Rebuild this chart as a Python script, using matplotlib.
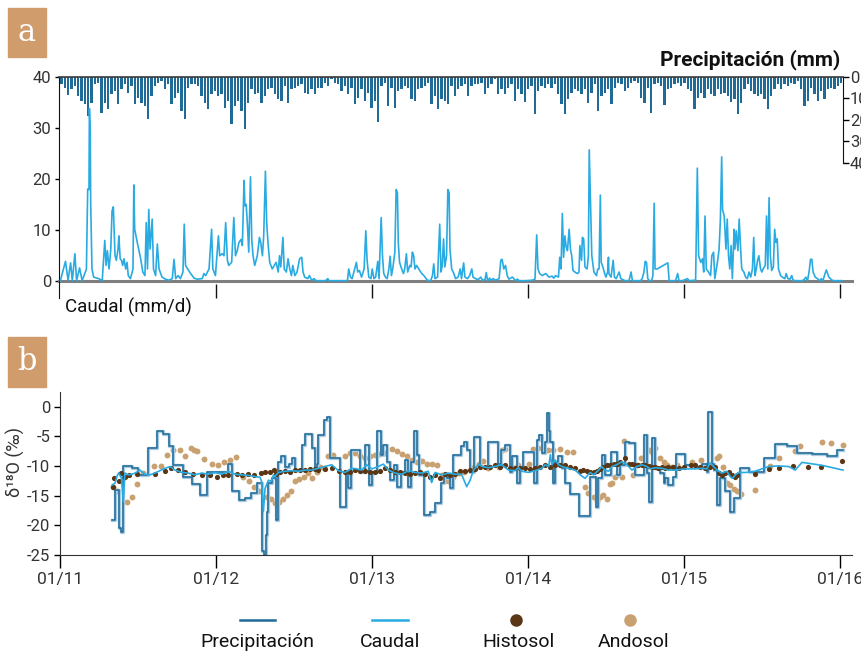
import numpy as np
import matplotlib
matplotlib.use("Agg")
import matplotlib.pyplot as plt
from matplotlib.lines import Line2D
from matplotlib.patches import Rectangle
import matplotlib.patheffects as pe

plt.rcParams['font.family'] = ['Roboto', 'DejaVu Sans']
TICK_FONT = ['Roboto', 'DejaVu Sans']

# colours
C_PRECIP = '#1f6a97'
C_CAUDAL = '#29abe2'
C_HISTO = '#5a3614'
C_ANDO = '#c9a06f'
C_BOX = '#d09c6b'
C_TXT = '#333333'

# x axis: days since 01/01/2011
YEAR_TICKS = [0, 365.25, 730.5, 1095.75, 1461, 1826.25]
YEAR_LABELS = ['01/11', '01/12', '01/13', '01/14', '01/15', '01/16']

# ---- panel a: precipitation (mm), one bar every PRECIP_STEP days ----
PRECIP_START = 2
PRECIP_STEP = 7.8
precip_mm = [
    3.4, 5.0, 8.5, 5.7, 4.2, 8.8, 11.2, 12.7, 18.1, 11.9, 3.4, 2.6, 16.6, 11.9, 15.0, 8.1,
    6.5, 12.7, 5.7, 3.4, 7.3, 4.2, 12.7, 9.6, 11.9, 13.5, 19.4, 8.8, 4.2, 2.6, 1.9, 5.7,
    3.4, 12.7, 9.6, 7.3, 15.8, 19.4, 5.0, 3.4, 3.4, 4.2, 8.8, 11.9, 15.0, 8.1, 6.5, 8.8,
    8.1, 14.3, 11.2, 22.0, 13.5, 11.2, 15.8, 24.0, 11.9, 5.7, 8.1, 7.3, 11.9, 8.8, 5.7, 5.0,
    8.1, 10.4, 11.2, 4.2, 11.9, 5.7, 5.0, 4.2, 3.4, 7.3, 8.1, 5.7, 8.1, 5.0,
    5.0, 2.6, 4.2, 1.1, 2.6, 3.4, 6.5, 4.2, 8.1, 5.0, 12.7, 9.6, 5.7, 11.2, 7.3, 14.3,
    11.2, 20.9, 4.2, 2.6, 13.5, 5.0, 14.3, 6.5, 5.7, 4.2, 5.0, 10.4, 11.2, 5.7, 5.0, 4.2,
    2.6, 12.7, 8.8, 15.0, 10.4, 11.2, 12.7, 4.2, 8.8, 5.7, 4.2, 3.4, 8.8, 4.2, 3.4, 3.4,
    2.6, 8.1, 5.0, 3.4, 1.1, 8.1, 5.7, 8.1, 5.0, 3.4, 11.2, 5.7, 8.1, 11.6, 5.7, 4.2,
    17.4, 6.5, 4.2, 5.0, 3.4, 5.0, 3.4, 8.1, 12.7, 17.4, 10.4, 7.3, 5.7, 6.5,
    8.1, 5.7, 11.9, 7.3, 3.4, 15.8, 8.8, 7.3, 5.7, 12.7, 5.0, 2.6, 3.4, 6.5, 5.0, 2.6,
    1.9, 2.6, 9.6, 11.9, 5.0, 16.6, 3.4, 2.6, 4.2, 13.2, 5.7, 5.0, 3.4, 2.6, 4.2, 2.6,
    5.7, 6.5, 15.0, 9.6, 7.3, 9.6, 5.7, 8.1, 8.8, 5.7, 8.1, 7.3, 8.8, 11.6, 10.4, 17.4,
    11.9, 5.7, 3.4, 6.5, 8.1, 8.8, 8.1, 10.4, 14.7, 8.8, 5.7, 3.4, 5.7, 3.4, 4.2, 2.6,
    3.4, 1.9, 5.7, 13.5, 11.2, 5.0, 8.1, 11.2, 6.5, 10.4, 5.7, 5.0, 5.7, 4.2, 2.6,
]

# ---- panel a: discharge (mm/d) as (day, value) ----
caudal_q = [
    (2, 0), (14, 3.8), (20, 0.1), (26, 3.5), (30, 0), (36, 5.3), (40, 0), (47, 2.5), (53, 0),
    (59, 1.4), (63, 2.3), (66, 18.0), (69, 17.9), (70, 33.8), (72, 29.3), (73, 15.3), (76, 2.3),
    (80, 0.7), (92, 0.4), (100, 0), (106, 7.9), (109, 3.0), (112, 5.9), (116, 2.3), (120, 6.2),
    (123, 13.7), (126, 14.5), (130, 4.9), (133, 4.0), (137, 6.2), (139, 8.8), (142, 4.3),
    (145, 4.0), (148, 3.0), (151, 4.3), (155, 2.3), (158, 3.6), (161, 1.0), (166, 0.4),
    (172, 2.3), (174, 18.8), (176, 10.1), (182, 7.5), (190, 4.3), (195, 1.7), (200, 1.0),
    (203, 11.4), (206, 2.3), (209, 14.0), (212, 6.2), (217, 12.1), (220, 2.3), (225, 1.0),
    (229, 7.2), (233, 2.3), (240, 0.7), (248, 0.3), (256, 0.1), (264, 0.4), (268, 4.2),
    (272, 0.4), (278, 1.0), (283, 0.4), (289, 1.7), (292, 11.1), (295, 3.0), (300, 2.3),
    (307, 1.4), (315, 0.5), (322, 0.3), (334, 0.4), (338, 1.4), (342, 1.0), (350, 2.3),
    (356, 10.1), (359, 2.3), (365, 1.0), (372, 8.8), (375, 4.9), (381, 5.3), (385, 4.9),
    (389, 11.4), (393, 4.0), (396, 3.0), (403, 3.6), (408, 12.4), (412, 4.9), (416, 5.9),
    (420, 7.5), (425, 8.1), (428, 6.9), (432, 19.7), (434, 14.7), (437, 15.0), (440, 10.8),
    (443, 5.6), (447, 20.4), (450, 8.2), (453, 4.9), (457, 3.0), (463, 4.9), (468, 8.5),
    (471, 7.5), (475, 4.9), (478, 8.8), (482, 21.5), (485, 11.4), (488, 7.5), (492, 3.6),
    (498, 2.3), (503, 3.0), (507, 3.6), (512, 1.7), (515, 4.9), (518, 2.7), (523, 8.5),
    (526, 2.3), (531, 1.7), (535, 4.3), (539, 2.3), (543, 1.0), (546, 3.0), (551, 1.0),
    (556, 1.7), (562, 4.3), (567, 4.6), (570, 1.7), (574, 0.7), (581, 0.4), (585, 1.0),
    (590, 0.1), (596, 0.4), (601, 0), (611, 0), (623, 0), (628, 0.4), (631, 0), (646, 0),
    (674, 0), (677, 2.3), (681, 0.7), (685, 0.4), (695, 3.6), (698, 1.7), (702, 2.0),
    (707, 0.7), (713, 2.3), (717, 9.8), (720, 4.0), (724, 0.7), (729, 0.4), (732, 2.3),
    (736, 0.4), (740, 0.7), (745, 3.8), (748, 0.4), (753, 12.4), (756, 4.9), (759, 1.4),
    (763, 0.7), (767, 0.4), (771, 2.3), (774, 4.8), (777, 1.0), (780, 2.3), (785, 5.6),
    (788, 17.9), (791, 17.3), (793, 7.5), (796, 3.6), (801, 2.3), (805, 1.4), (808, 2.3),
    (812, 5.3), (815, 1.7), (820, 3.0), (823, 2.7), (826, 5.6), (829, 4.9), (832, 2.3),
    (836, 3.0), (841, 2.3), (848, 1.4), (853, 1.0), (861, 0.1), (869, 0), (873, 1.0),
    (876, 3.3), (879, 0.4), (885, 0.7), (890, 11.1), (893, 1.7), (896, 3.0), (899, 8.2),
    (902, 2.7), (906, 4.9), (909, 17.9), (912, 17.3), (914, 6.2), (918, 2.3), (923, 1.4),
    (927, 0.4), (933, 0.7), (938, 2.3), (941, 0.4), (946, 3.5), (949, 0.7), (955, 0.4),
    (960, 1.0), (965, 2.3), (968, 0.7), (974, 0.4), (980, 0.2), (986, 0.7), (990, 0.1),
    (996, 0.2), (999, 1.6), (1002, 0), (1007, 0.5), (1010, 0.1), (1015, 0.4), (1021, 0.1),
    (1029, 0.4), (1033, 4.0), (1036, 4.2), (1040, 2.3), (1044, 3.0), (1048, 1.0), (1052, 0.3),
    (1060, 0.7), (1068, 0), (1072, 0.3), (1076, 0), (1091, 0), (1107, 0.1), (1113, 0.3),
    (1117, 9.0), (1120, 2.3), (1124, 1.4), (1130, 1.0), (1138, 1.4), (1146, 0.7), (1153, 0.9),
    (1157, 0.5), (1161, 1.0), (1168, 0.7), (1171, 4.6), (1174, 2.3), (1177, 13.2), (1180, 4.6),
    (1183, 8.8), (1186, 6.6), (1189, 5.9), (1193, 10.1), (1196, 6.2), (1199, 4.9), (1202, 2.0),
    (1208, 1.6), (1213, 1.4), (1216, 1.7), (1218, 6.9), (1222, 4.0), (1224, 8.5), (1227, 8.2),
    (1230, 2.7), (1235, 2.3), (1238, 4.9), (1240, 25.7), (1243, 15.3), (1246, 4.9), (1251, 1.7),
    (1257, 1.0), (1260, 2.3), (1263, 2.3), (1266, 16.8), (1268, 3.6), (1272, 2.7), (1275, 1.7),
    (1279, 0.7), (1283, 1.7), (1285, 4.6), (1286, 1.4), (1291, 0.7), (1296, 4.0), (1299, 0.7),
    (1303, 0.4), (1310, 1.7), (1314, 0.4), (1321, 0.1), (1325, 0), (1333, 0), (1338, 1.7),
    (1341, 0), (1360, 0), (1364, 0.4), (1368, 1.7), (1371, 3.8), (1374, 3.6), (1377, 0.4),
    (1381, 0), (1386, 0), (1389, 1.0), (1392, 15.2), (1394, 2.3), (1399, 2.3), (1424, 3.5),
    (1427, 0), (1442, 0), (1447, 1.4), (1450, 0), (1458, 0), (1470, 0.4), (1474, 0), (1489, 0.1),
    (1493, 22.1), (1496, 4.9), (1501, 3.6), (1505, 4.3), (1508, 1.7), (1511, 12.7), (1514, 2.3),
    (1519, 1.7), (1524, 1.0), (1527, 4.9), (1531, 5.6), (1534, 0.4), (1540, 3.6), (1544, 6.2),
    (1547, 12.1), (1550, 24.3), (1552, 14.0), (1556, 12.7), (1560, 6.2), (1563, 12.1),
    (1566, 4.9), (1569, 2.3), (1572, 6.9), (1575, 0.4), (1579, 10.1), (1581, 6.2), (1584, 9.8),
    (1588, 5.9), (1591, 12.1), (1594, 6.9), (1597, 2.3), (1602, 1.7), (1606, 0.7), (1610, 0.4),
    (1614, 1.7), (1618, 0.7), (1622, 2.3), (1625, 8.5), (1628, 1.0), (1631, 2.3), (1634, 4.0),
    (1637, 4.9), (1641, 2.3), (1644, 1.7), (1647, 2.3), (1652, 3.0), (1655, 12.7), (1658, 2.3),
    (1661, 16.3), (1664, 4.9), (1667, 2.0), (1671, 2.7), (1674, 10.1), (1677, 7.5), (1680, 8.2),
    (1683, 2.3), (1688, 1.0), (1692, 0.7), (1698, 0.4), (1701, 1.4), (1705, 0.4), (1710, 0.3),
    (1714, 1.0), (1717, 0.1), (1723, 0), (1739, 0), (1744, 0.3), (1747, 0.7), (1751, 0),
    (1755, 2.0), (1758, 4.2), (1761, 4.2), (1764, 1.7), (1769, 0.7), (1774, 0.4), (1780, 0),
    (1783, 0.4), (1787, 0), (1792, 1.4), (1795, 2.1), (1798, 1.4), (1801, 0.7), (1808, 0.1),
    (1813, 0), (1833, 0),
]

# ---- panel b: d18O (permil) ----
# precipitation samples, each value holds until the next sample
precip_d18o = [
    (122, -19.1), (129, -14.0), (137, -20.5), (142, -21.1), (148, -10.0), (169, -10.4),
    (182, -11.5), (205, -6.9), (226, -4.2), (240, -4.7), (254, -6.6), (265, -9.8), (289, -11.8),
    (308, -13.1), (328, -14.9), (343, -11.0), (393, -9.6), (402, -14.3), (418, -15.7),
    (433, -15.4), (447, -14.6), (460, -12.9), (472, -24.4), (477, -25.0), (482, -21.6),
    (485, -17.7), (488, -12.9), (496, -12.1), (505, -19.1), (510, -9.3), (518, -8.4),
    (527, -10.1), (535, -9.6), (544, -8.7), (549, -10.7), (567, -6.5), (574, -4.7), (589, -7.0),
    (596, -10.7), (601, -9.6), (605, -4.8), (617, -2.2), (624, -1.7), (632, -8.7), (656, -17.0),
    (669, -11.2), (675, -13.8), (682, -7.3), (703, -11.0), (714, -6.5), (724, -13.2),
    (731, -11.0), (741, -4.2), (751, -8.1), (757, -6.5), (765, -9.3), (773, -12.4), (781, -9.8),
    (788, -13.5), (799, -11.0), (808, -9.0), (814, -13.5), (821, -9.3), (829, -4.2), (835, -8.1),
    (841, -11.5), (851, -18.3), (866, -17.7), (878, -16.3), (892, -12.9), (898, -11.5),
    (905, -12.1), (913, -13.8), (921, -8.1), (938, -6.7), (945, -5.9), (952, -7.3), (960, -11.0),
    (970, -5.1), (984, -10.1), (1003, -5.9), (1025, -9.6), (1033, -7.3), (1042, -6.5),
    (1054, -11.0), (1058, -8.4), (1069, -12.9), (1077, -10.1), (1085, -7.6), (1109, -12.9),
    (1116, -5.6), (1122, -4.8), (1128, -7.9), (1136, -5.9), (1141, -1.1), (1144, -4.2),
    (1147, -5.9), (1155, -12.9), (1159, -9.3), (1165, -8.4), (1175, -10.4), (1182, -12.9),
    (1194, -14.7), (1214, -18.5), (1241, -11.8), (1254, -16.9), (1260, -12.1), (1268, -8.1),
    (1275, -11.5), (1290, -7.6), (1303, -11.5), (1311, -9.8), (1323, -5.9), (1331, -6.2),
    (1346, -11.5), (1366, -4.8), (1374, -11.2), (1379, -16.0), (1385, -5.3), (1393, -10.4),
    (1405, -11.2), (1413, -12.9), (1417, -12.1), (1424, -13.2), (1434, -11.8), (1442, -8.0),
    (1463, -9.8), (1487, -10.1), (1502, -9.6), (1514, -11.0), (1517, -1.0), (1526, -9.6),
    (1530, -10.7), (1538, -16.6), (1545, -12.1), (1557, -14.3), (1569, -17.7), (1577, -15.4),
    (1591, -10.4), (1612, -11.1), (1647, -8.7), (1674, -6.3), (1701, -6.6), (1725, -7.9),
    (1760, -8.0), (1795, -8.4), (1818, -7.3), (1833, -7.3),
]

caudal_d18o = [
    (122, -13.2), (129, -12.9), (133, -11.8), (137, -11.2), (140, -11.5), (144, -12.1),
    (148, -16.0), (152, -11.2), (160, -11.5), (168, -11.4), (176, -11.2), (187, -10.7),
    (199, -11.4), (211, -11.5), (222, -11.2), (234, -10.8), (246, -10.4), (258, -10.1),
    (269, -10.7), (285, -11.1), (300, -11.2), (316, -11.5), (332, -11.2), (347, -11.4),
    (363, -11.1), (378, -11.4), (394, -10.9), (410, -11.4), (425, -11.5), (441, -11.6),
    (457, -11.8), (468, -11.9), (472, -12.6), (476, -17.7), (480, -13.8), (488, -12.4),
    (494, -12.6), (500, -11.5), (503, -11.8), (511, -11.1), (527, -10.9), (542, -10.8),
    (558, -10.9), (574, -10.7), (589, -10.7), (605, -10.4), (621, -10.1), (636, -9.8),
    (652, -10.8), (667, -11.1), (683, -10.4), (695, -10.5), (706, -10.7), (718, -9.8),
    (730, -10.5), (745, -10.1), (757, -9.7), (769, -10.7), (784, -11.2), (800, -11.4),
    (816, -10.8), (831, -11.1), (847, -11.2), (862, -10.9), (870, -12.8), (878, -11.1),
    (894, -11.5), (909, -11.2), (925, -11.4), (940, -11.4), (952, -13.5), (960, -12.4),
    (968, -10.7), (980, -9.7), (988, -10.1), (1003, -10.3), (1018, -10.1), (1034, -9.8),
    (1050, -10.7), (1065, -10.8), (1073, -10.3), (1081, -10.9), (1097, -11.1), (1112, -10.8),
    (1128, -10.4), (1136, -9.8), (1144, -10.1), (1148, -8.1), (1151, -9.7), (1159, -9.0),
    (1167, -9.8), (1175, -10.1), (1190, -10.4), (1206, -10.7), (1218, -11.5), (1229, -12.1),
    (1241, -11.1), (1249, -11.5), (1261, -10.7), (1268, -10.1), (1276, -10.7), (1284, -10.9),
    (1292, -10.1), (1303, -9.8), (1315, -9.3), (1327, -9.8), (1339, -10.7), (1350, -10.1),
    (1362, -9.8), (1374, -10.1), (1382, -10.5), (1393, -10.3), (1409, -10.4), (1424, -10.7),
    (1440, -10.7), (1463, -10.5), (1487, -10.5), (1503, -10.4), (1514, -10.5), (1522, -9.5),
    (1530, -10.1), (1538, -10.7), (1549, -11.2), (1561, -10.9), (1569, -11.8), (1574, -12.1),
    (1581, -11.5), (1588, -11.1), (1604, -11.1), (1627, -10.9), (1659, -10.1), (1682, -10.0),
    (1706, -10.1), (1721, -10.7), (1737, -9.4), (1784, -9.9), (1833, -10.7),
]

histosol_d18o = [
    (123, -13.5), (127, -12.1), (137, -12.6), (143, -11.2), (152, -11.8), (162, -11.6),
    (180, -11.3), (222, -11.4), (246, -10.8), (261, -10.3), (277, -10.7), (293, -11.1),
    (312, -11.4), (332, -11.5), (351, -11.6), (367, -11.8), (382, -11.5), (394, -11.5),
    (414, -11.4), (425, -11.5), (439, -11.3), (453, -11.5), (471, -11.2), (480, -11.1),
    (492, -11.1), (500, -10.7), (505, -11.4), (515, -11.1), (527, -10.8), (539, -11.0),
    (550, -10.7), (562, -10.7), (574, -10.7), (585, -10.5), (597, -10.5), (605, -10.7),
    (621, -10.5), (636, -10.3), (652, -10.8), (667, -11.1), (679, -11.1), (691, -10.7),
    (703, -10.8), (714, -10.8), (726, -11.1), (738, -11.0), (749, -10.8), (761, -10.4),
    (773, -10.7), (784, -11.0), (796, -11.1), (808, -11.2), (820, -11.4), (831, -11.2),
    (843, -11.1), (855, -11.4), (866, -11.8), (878, -11.5), (890, -12.0), (901, -11.4),
    (913, -11.5), (925, -11.4), (937, -10.8), (948, -10.8), (960, -10.7), (972, -10.5),
    (984, -10.1), (995, -10.1), (1007, -10.1), (1019, -9.9), (1030, -10.1), (1042, -9.9),
    (1054, -10.3), (1065, -10.4), (1077, -10.3), (1089, -10.4), (1101, -10.5), (1112, -10.3),
    (1124, -10.1), (1136, -9.9), (1147, -10.1), (1159, -9.9), (1171, -9.8), (1182, -9.9),
    (1194, -10.1), (1206, -10.3), (1218, -10.8), (1225, -10.7), (1233, -10.8), (1241, -11.0),
    (1249, -11.1), (1257, -10.8), (1264, -10.5), (1272, -10.1), (1280, -9.9), (1288, -9.8),
    (1296, -9.6), (1303, -9.6), (1311, -9.4), (1323, -8.6), (1331, -9.6), (1339, -9.7),
    (1346, -9.8), (1354, -9.9), (1362, -9.8), (1370, -9.9), (1378, -10.0), (1385, -10.1),
    (1393, -10.1), (1401, -10.3), (1409, -10.1), (1417, -10.3), (1424, -10.1), (1436, -10.1),
    (1448, -10.3), (1460, -10.1), (1476, -9.8), (1487, -9.9), (1499, -10.1), (1511, -10.3),
    (1522, -10.1), (1534, -10.1), (1542, -11.2), (1549, -11.5), (1557, -11.2), (1565, -11.0),
    (1573, -11.5), (1579, -11.8), (1584, -11.5), (1626, -11.4), (1659, -10.5), (1682, -10.3),
    (1715, -10.0), (1751, -10.1), (1782, -10.1), (1830, -9.2),
]

andosol_d18o = [
    (123, -13.5), (134, -14.3), (158, -16.0), (168, -15.3), (180, -13.1), (194, -11.2),
    (221, -10.0), (236, -10.0), (250, -8.1), (265, -7.4), (281, -7.4), (293, -8.4), (306, -7.0),
    (314, -7.3), (321, -7.5), (337, -8.8), (355, -9.7), (371, -9.8), (384, -9.4), (398, -9.0),
    (412, -8.5), (429, -11.8), (443, -12.6), (454, -13.5), (467, -14.3), (484, -15.2),
    (493, -15.5), (503, -16.2), (513, -16.0), (523, -15.5), (532, -14.9), (540, -14.3),
    (550, -12.5), (560, -12.2), (572, -11.8), (581, -11.2), (589, -12.0), (601, -11.1),
    (609, -10.1), (617, -10.4), (628, -8.4), (640, -8.1), (667, -8.4), (679, -7.9), (691, -7.9),
    (703, -8.4), (714, -8.6), (726, -8.4), (738, -8.1), (749, -8.0), (761, -7.9), (777, -7.1),
    (788, -7.5), (800, -8.0), (812, -8.3), (824, -9.0), (835, -9.3), (847, -9.2), (859, -9.6),
    (870, -9.6), (882, -9.8), (894, -11.5), (902, -12.4), (909, -12.6), (921, -11.8),
    (933, -11.2), (945, -11.0), (968, -10.1), (980, -9.6), (991, -9.2), (1003, -10.3),
    (1027, -10.1), (1034, -7.3), (1042, -7.1), (1058, -10.1), (1073, -9.8), (1097, -9.6),
    (1108, -7.1), (1120, -7.0), (1132, -7.1), (1143, -7.3), (1155, -7.3), (1171, -7.1),
    (1186, -7.6), (1200, -7.6), (1229, -13.5), (1237, -14.6), (1249, -15.2), (1257, -15.9),
    (1264, -15.2), (1272, -14.9), (1280, -15.6), (1288, -13.1), (1293, -12.9), (1300, -11.8),
    (1307, -11.4), (1315, -11.8), (1321, -5.8), (1342, -11.6), (1350, -9.8), (1360, -8.6),
    (1370, -8.4), (1378, -7.3), (1385, -7.7), (1393, -7.0), (1405, -8.6), (1413, -9.3),
    (1421, -9.8), (1432, -10.1), (1444, -9.9), (1479, -9.3), (1501, -9.0), (1514, -9.9),
    (1538, -8.6), (1543, -8.3), (1553, -10.1), (1561, -12.8), (1569, -13.2), (1577, -13.9),
    (1584, -14.3), (1594, -14.8), (1627, -14.0), (1661, -10.0), (1684, -8.6), (1720, -7.5),
    (1733, -6.7), (1784, -5.9), (1804, -6.2), (1833, -6.5),
]

W, H = 862, 652


def fig_rect(x0, y0, x1, y1):
    # pixel box (top-left origin) -> figure fraction rect
    return [x0 / W, 1 - y1 / H, (x1 - x0) / W, (y1 - y0) / H]


def panel_tag(fig, letter, y0, y1):
    fig.patches.append(Rectangle((8 / W, 1 - y1 / H), 38 / W, (y1 - y0) / H,
                                 transform=fig.transFigure, color=C_BOX, zorder=5))
    fig.text(27 / W, 1 - (y0 + y1) / 2 / H, letter, color='white', fontsize=22,
             family='DejaVu Serif', ha='center', va='center', zorder=6)


fig = plt.figure(figsize=(W / 100, H / 100), dpi=100)

# ---------------- panel a ----------------
ax_a = fig.add_axes(fig_rect(59.5, 77, 843, 298))
ax_p = ax_a.twinx()
ax_a.set_zorder(ax_p.get_zorder() + 1)
ax_a.patch.set_visible(False)

ax_a.set_xlim(0, 1834)
ax_a.set_ylim(-3.4, 40)

p_days = PRECIP_START + PRECIP_STEP * np.arange(len(precip_mm))
ax_p.bar(p_days, precip_mm, width=PRECIP_STEP * 0.7, align='edge', color=C_PRECIP, linewidth=0)
ax_p.set_ylim(102.8, 0)

q_day, q_val = zip(*caudal_q)
ax_a.plot(q_day, q_val, color=C_CAUDAL, lw=1.2, zorder=3)
ax_a.axhline(0, xmin=0, xmax=(852 - 59.5) / (843 - 59.5), color='#7f7f7f', lw=2.2,
             clip_on=False, zorder=2)

for sp in ['bottom', 'right']:
    ax_a.spines[sp].set_visible(False)
ax_a.spines['top'].set_color('#3a3a3a')
ax_a.spines['top'].set_linewidth(1.2)
ax_a.spines['left'].set_color('#111111')
ax_a.set_xticks(YEAR_TICKS[1:])
ax_a.tick_params(axis='x', direction='in', length=10, width=1, color='#111111', labelbottom=False)
ax_a.set_yticks([0, 10, 20, 30, 40])
ax_a.tick_params(axis='y', direction='out', length=3, width=1, labelsize=12, labelcolor=C_TXT, pad=3)

for sp in ['top', 'bottom', 'left']:
    ax_p.spines[sp].set_visible(False)
ax_p.spines['right'].set_bounds(0, 40)
ax_p.spines['right'].set_color('#111111')
ax_p.set_yticks([0, 10, 20, 30, 40])
ax_p.tick_params(axis='y', direction='out', length=4, width=1, labelsize=12, labelcolor=C_TXT, pad=1)

fig.text(840 / W, 1 - 60 / H, 'Precipitación (mm)', ha='right', va='center',
         fontsize=15, weight='bold', color='#111111')
fig.text(65 / W, 1 - 307 / H, 'Caudal (mm/d)', ha='left', va='center', fontsize=13.5, color='#111111')

# ---------------- panel b ----------------
ax_b = fig.add_axes(fig_rect(60, 391.7, 852, 555))
ax_b.set_xlim(0, 1854)
ax_b.set_ylim(-25, 2.5)

a_day, a_val = zip(*andosol_d18o)
h_day, h_val = zip(*histosol_d18o)
pi_day, pi_val = zip(*precip_d18o)
ci_day, ci_val = zip(*caudal_d18o)

ax_b.scatter(a_day, a_val, s=18, color=C_ANDO, linewidths=0, zorder=2)
ax_b.step(pi_day, pi_val, where='post', color=C_PRECIP, lw=1.1, zorder=3,
          path_effects=[pe.Stroke(linewidth=2.4, foreground='#a8cbe2'), pe.Normal()])
ax_b.scatter(h_day, h_val, s=14, color=C_HISTO, linewidths=0, zorder=4)
ax_b.plot(ci_day, ci_val, color=C_CAUDAL, lw=1.2, zorder=5)

for sp in ['top', 'right']:
    ax_b.spines[sp].set_visible(False)
for sp in ['left', 'bottom']:
    ax_b.spines[sp].set_color('#333333')
ax_b.set_xticks(YEAR_TICKS)
ax_b.set_xticklabels(YEAR_LABELS)
ax_b.tick_params(axis='x', direction='out', length=9, width=1, labelsize=12.5, labelcolor=C_TXT, pad=3)
ax_b.set_yticks([0, -5, -10, -15, -20, -25])
ax_b.set_yticklabels(['0', '-5', '-10', '-15', '-20', '-25'])
ax_b.tick_params(axis='y', direction='out', length=4, width=1, labelsize=12, labelcolor=C_TXT, pad=3)

fig.text(15 / W, 1 - 462 / H, 'δ¹⁸O (‰)', rotation=90, ha='center', va='center',
         fontsize=13, color=C_TXT)

# legend, drawn by hand: symbol on top, label underneath
leg_y = 1 - 620 / H
lab_y = 1 - 642 / H
fig.add_artist(Line2D([240 / W, 275 / W], [leg_y, leg_y], color=C_PRECIP, lw=1.8))
fig.add_artist(Line2D([372 / W, 408 / W], [leg_y, leg_y], color=C_CAUDAL, lw=1.8))
fig.add_artist(Line2D([516 / W], [leg_y], marker='o', ms=8, color=C_HISTO, lw=0))
fig.add_artist(Line2D([630 / W], [leg_y], marker='o', ms=8, color=C_ANDO, lw=0))
for x, txt in [(257, 'Precipitación'), (390, 'Caudal'), (519, 'Histosol'), (634, 'Andosol')]:
    fig.text(x / W, lab_y, txt, ha='center', va='center', fontsize=14, color='#111111')

panel_tag(fig, 'a', 8, 57)
panel_tag(fig, 'b', 337, 387)

fig.savefig('out.png', dpi=100)
